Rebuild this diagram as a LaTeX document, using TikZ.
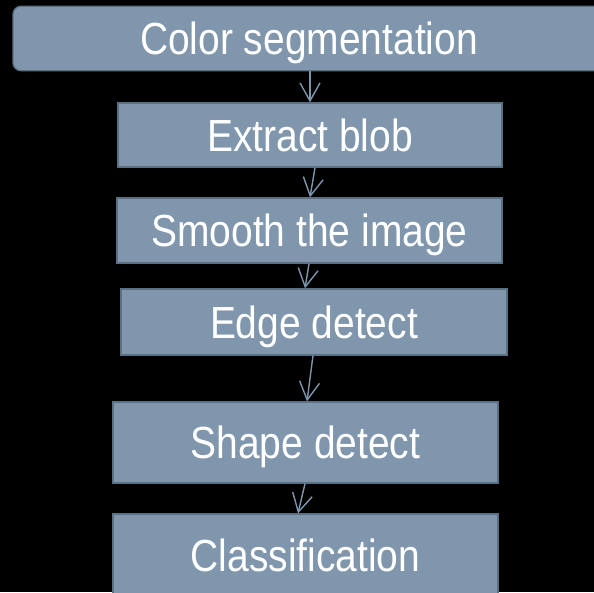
\documentclass[tikz,border=0pt]{standalone}
\usepackage{fontspec}
\setmainfont[FakeStretch=0.866]{Liberation Sans}
\usetikzlibrary{arrows.meta}
\definecolor{boxfill}{RGB}{127,150,173}
\definecolor{boxline}{RGB}{92,112,132}
\definecolor{arrcol}{RGB}{125,150,174}
\tikzset{
  stepbox/.style={rectangle, draw=boxline, line width=1.3pt, fill=boxfill,
    text=white, inner sep=0pt, text height=32.2pt, text depth=0pt,
    font=\fontsize{45}{50}\selectfont},
  arr/.style={draw=arrcol, line width=1.4pt, -{Straight Barb[length=18pt,width=20pt,line width=1.4pt]}}
}
\begin{document}
\begin{tikzpicture}[x=1pt,y=-1pt]
\fill[black] (0,0) rectangle (594,592);
\useasboundingbox (0,0) rectangle (594,592);
\begin{scope}
\clip (0,0) rectangle (594,592);
\node[stepbox, rounded corners=8pt, minimum width=592pt, minimum height=64.5pt] (b1) at (309,38.5) {Color segmentation};
\node[stepbox, minimum width=384pt, minimum height=64pt] (b2) at (310,135) {Extract blob};
\node[stepbox, minimum width=385pt, minimum height=65pt] (b3) at (309.5,230.5) {Smooth the image};
\node[stepbox, minimum width=386pt, minimum height=66pt] (b4) at (314,322) {Edge detect};
\node[stepbox, minimum width=385pt, minimum height=81pt] (b5) at (305.5,442.5) {Shape detect};
\node[stepbox, minimum width=385pt, minimum height=82pt] (b6) at (305.5,555) {Classification};
\end{scope}
\draw[arr] ([xshift=1pt]b1.south) -- (b2.north);
\draw[arr] ([xshift=5pt]b2.south) -- ([xshift=0.5pt]b3.north);
\draw[arr] ([xshift=-0.5pt]b3.south) -- ([xshift=-9pt]b4.north);
\draw[arr] ([xshift=-1pt]b4.south) -- ([xshift=1.5pt]b5.north);
\draw[arr] ([xshift=-0.5pt]b5.south) -- ([xshift=-7.5pt]b6.north);
\end{tikzpicture}
\end{document}
